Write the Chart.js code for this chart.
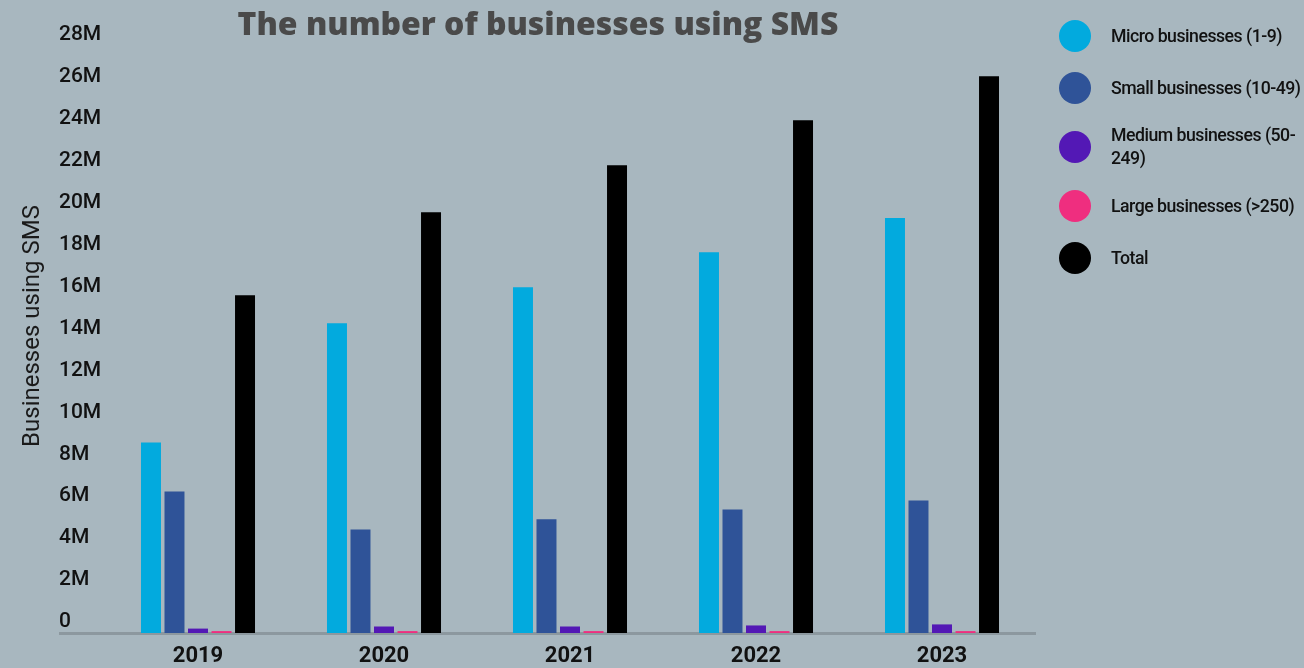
<!DOCTYPE html>
<html>
<head>
<meta charset="utf-8">
<title>Businesses using SMS</title>
<script src="https://cdn.jsdelivr.net/npm/chart.js@4.4.0/dist/chart.umd.min.js"></script>
<style>
  body { margin: 0; background: #a8b7bf; overflow: hidden; }
  #wrap { position: relative; width: 1304px; height: 668px; }
  #legend {
    position: absolute; left: 1059px; top: 20px; width: 250px;
    display: flex; flex-direction: column; gap: 20px;
    font-family: Roboto, sans-serif; font-weight: 500; font-size: 17.7px;
    line-height: 23px; color: #111; letter-spacing: -0.5px;
  }
  .item { display: flex; align-items: center; }
  .item span:last-child { width: 197px; }
  .dot { width: 32px; height: 32px; border-radius: 50%; flex: none; margin-right: 20px; }
</style>
</head>
<body>
<div id="wrap">
  <canvas id="chart" width="1304" height="668"></canvas>
  <div id="legend"></div>
</div>
<script>
// values in millions of businesses
const years = ['2019', '2020', '2021', '2022', '2023'];
const micro = [9.09, 14.77, 16.49, 18.16, 19.79];
const small = [6.75, 4.94, 5.42, 5.89, 6.32];
const medium = [0.21, 0.31, 0.31, 0.36, 0.41];
const large = [0.09, 0.09, 0.09, 0.09, 0.09];
const total = [16.11, 20.07, 22.31, 24.46, 26.56];

const seriesNames = ['Micro businesses (1-9)', 'Small businesses (10-49)', 'Medium businesses (50-249)', 'Large businesses (>250)', 'Total'];
const seriesColors = ['#02aade', '#2f5398', '#5318b5', '#ef2e7f', '#000000'];
const seriesData = [micro, small, medium, large, total];

const chartTitle = 'The number of businesses using SMS';
const yTitle = 'Businesses using SMS';

// grey base line goes under the bars, titles on top
const extras = {
  id: 'extras',
  beforeDatasetsDraw(chart) {
    const { ctx, chartArea } = chart;
    ctx.save();
    ctx.strokeStyle = '#8c989f';
    ctx.lineWidth = 3;
    ctx.beginPath();
    ctx.moveTo(59, chartArea.bottom + 0.5);
    ctx.lineTo(chartArea.right + 1, chartArea.bottom + 0.5);
    ctx.stroke();
    ctx.restore();
  },
  afterDatasetsDraw(chart) {
    const { ctx } = chart;
    ctx.save();
    ctx.fillStyle = '#1a1a1a';
    ctx.font = '400 24px Roboto';
    ctx.textAlign = 'center';
    ctx.textBaseline = 'middle';
    ctx.translate(33, 326);
    ctx.rotate(-Math.PI / 2);
    ctx.fillText(yTitle, 0, 0);
    ctx.restore();

    ctx.save();
    let size = 32;
    ctx.font = `800 ${size}px "Open Sans"`;
    size = size * 601 / ctx.measureText(chartTitle).width;
    ctx.font = `800 ${size}px "Open Sans"`;
    ctx.fillStyle = '#4a4a4a';
    ctx.textAlign = 'center';
    ctx.textBaseline = 'middle';
    ctx.fillText(chartTitle, 538, 26);
    ctx.restore();
  }
};

const chart = new Chart(document.getElementById('chart'), {
  type: 'bar',
  data: {
    labels: years,
    datasets: seriesData.map((d, i) => ({
      label: seriesNames[i],
      data: d,
      backgroundColor: seriesColors[i],
      categoryPercentage: 0.632,
      barPercentage: 0.85
    }))
  },
  options: {
    responsive: false,
    animation: false,
    layout: { padding: { top: 46, left: 59, right: 269, bottom: 0 } },
    plugins: {
      legend: { display: false },
      tooltip: { enabled: false }
    },
    scales: {
      x: {
        grid: { display: false },
        border: { display: false },
        ticks: {
          color: '#111',
          padding: 2,
          font: { family: 'Roboto', size: 22, weight: 'bold' }
        },
        afterFit: (s) => { s.height = 35; }
      },
      y: {
        min: 0,
        max: 28,
        grid: { display: false },
        border: { display: false },
        ticks: {
          stepSize: 2,
          color: '#111',
          crossAlign: 'far',
          labelOffset: -11,
          font: { family: 'Roboto', size: 21, weight: 500 },
          callback: (v) => v === 0 ? '0' : v + 'M'
        },
        afterFit: (s) => { s.width = 46; }
      }
    }
  },
  plugins: [extras]
});

// legend list built from the datasets
const legend = document.getElementById('legend');
chart.data.datasets.forEach((ds) => {
  const item = document.createElement('div');
  item.className = 'item';
  const dot = document.createElement('span');
  dot.className = 'dot';
  dot.style.background = ds.backgroundColor;
  const text = document.createElement('span');
  text.textContent = ds.label;
  item.appendChild(dot);
  item.appendChild(text);
  legend.appendChild(item);
});
</script>
</body>
</html>
